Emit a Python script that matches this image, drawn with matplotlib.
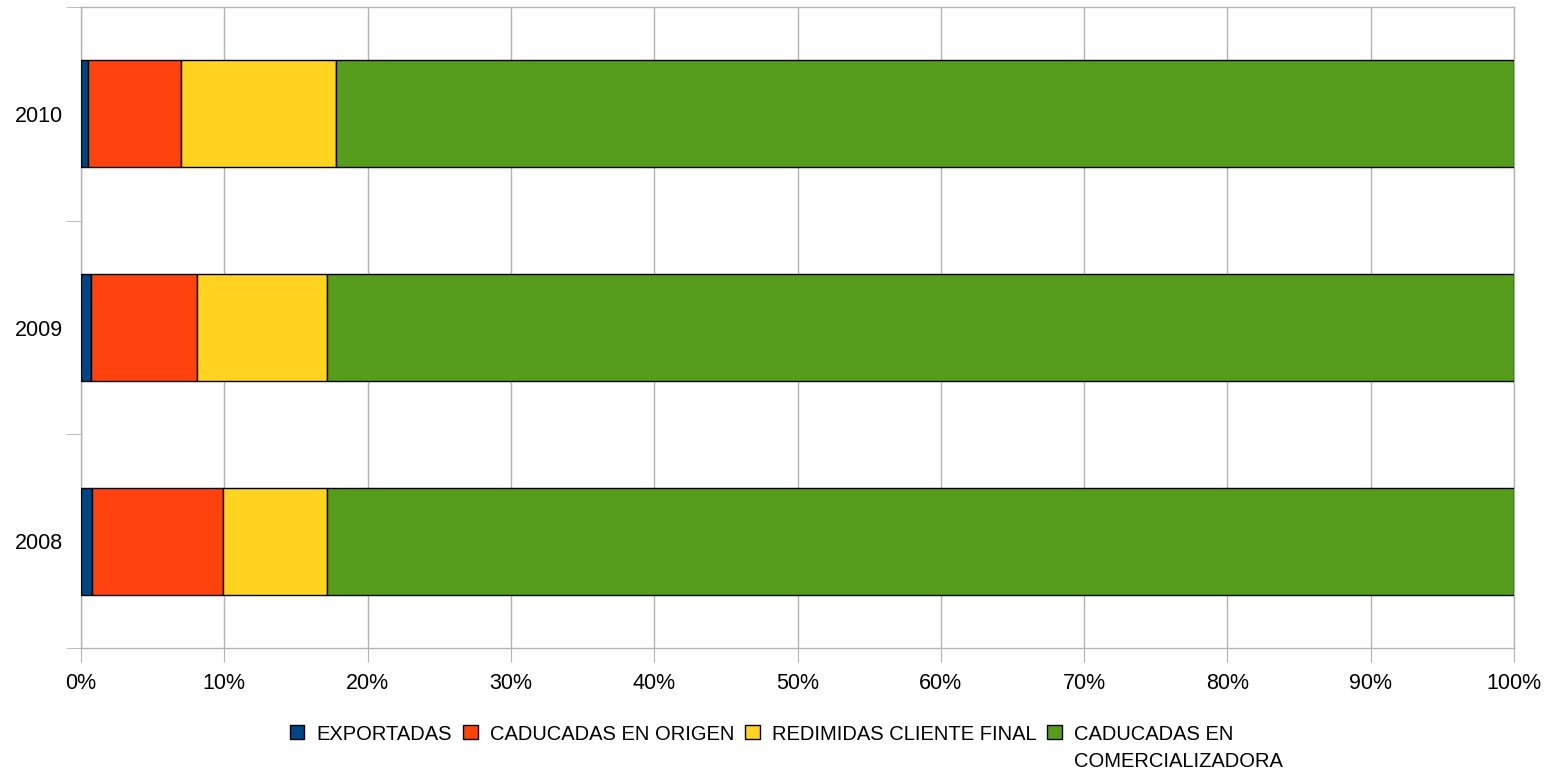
import matplotlib
matplotlib.use("Agg")
import matplotlib.pyplot as plt
import numpy as np

plt.rcParams["font.family"] = ["Liberation Sans", "DejaVu Sans"]

years = ["2008", "2009", "2010"]
series_names = [
    "EXPORTADAS",
    "CADUCADAS EN ORIGEN",
    "REDIMIDAS CLIENTE FINAL",
    "CADUCADAS EN\nCOMERCIALIZADORA",
]
# percent shares per year (2008, 2009, 2010)
exportadas = [0.74, 0.70, 0.46]
caducadas_origen = [9.15, 7.37, 6.52]
redimidas = [7.26, 9.08, 10.82]
caducadas_comerc = [82.85, 82.85, 82.20]
colors = ["#004586", "#ff420e", "#ffd320", "#579d1c"]

grid_gray = "#b3b3b3"

fig = plt.figure(figsize=(15.54, 7.74), dpi=100)
ax = fig.add_axes([81 / 1554, 1 - 648 / 774, (1514 - 81) / 1554, (648 - 7) / 774])

data = np.array([exportadas, caducadas_origen, redimidas, caducadas_comerc])
y = np.arange(len(years))
left = np.zeros(len(years))
for vals, name, col in zip(data, series_names, colors):
    ax.barh(y, vals, left=left, height=0.5, color=col, edgecolor="black",
            linewidth=1.0, label=name, zorder=3)
    left += vals

ax.set_xlim(0, 100)
ax.set_ylim(-0.5, len(years) - 0.5)
ax.set_xticks(np.arange(0, 101, 10))
ax.set_xticklabels([f"{v}%" for v in range(0, 101, 10)])
ax.set_yticks(y)
ax.set_yticklabels(years)
ax.set_yticks(np.arange(-0.5, len(years), 1), minor=True)

ax.tick_params(axis="x", length=10, color=grid_gray, labelsize=15.5, pad=8)
ax.tick_params(axis="y", which="major", length=0, labelsize=15.5, pad=13)
ax.tick_params(axis="y", which="minor", length=11, color=grid_gray)
ax.grid(axis="x", color=grid_gray, linewidth=1, zorder=0)
for sp in ax.spines.values():
    sp.set_color(grid_gray)
    sp.set_linewidth(1)

leg = fig.legend(loc="upper center", bbox_to_anchor=(0.506, 1 - 707 / 774), ncol=4,
                 frameon=False, fontsize=14.5, handlelength=0.72, handleheight=0.72,
                 handletextpad=0.6, columnspacing=0.55)
for t in leg.get_texts():
    t.set_linespacing(1.55)
# keep each square level with the first line of its label
leg._legend_handle_box.align = "top"
for col in leg._legend_handle_box.get_children():
    for item in col.get_children():
        item.align = "top"

fig.savefig("out.png", dpi=100)
